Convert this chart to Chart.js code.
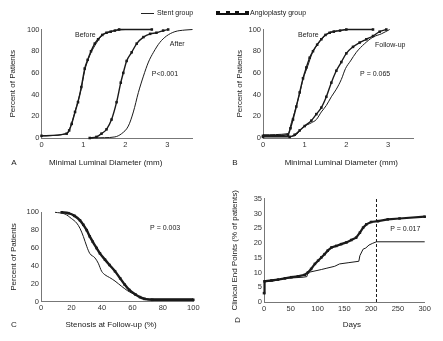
<!DOCTYPE html>
<html>
<head>
<meta charset="utf-8">
<script src="https://cdn.jsdelivr.net/npm/chart.js@4.4.1/dist/chart.umd.min.js"></script>
<style>
  html, body { margin: 0; padding: 0; background: #fff; }
  body { position: relative; width: 443px; height: 341px; overflow: hidden; font-family: "Liberation Sans", Arial, sans-serif; color: #222; }
  canvas { position: absolute; }
  #legend { position: absolute; left: 0; top: 0; width: 443px; height: 20px; will-change: transform; -webkit-font-smoothing: antialiased; }
  .legend-line { position: absolute; height: 1px; background: #222; }
  .legend-thick { position: absolute; height: 1.5px; background: #111; }
  .legend-box { position: absolute; width: 4px; height: 4px; background: #111; }
  .legend-text { position: absolute; font-size: 7px; line-height: 8px; white-space: nowrap; color: #1a1a1a; }
</style>
</head>
<body>
<div id="legend">
  <div class="legend-line" style="left:141px;top:13px;width:13px"></div>
  <div class="legend-text" style="left:157px;top:9px">Stent group</div>
  <div class="legend-thick" style="left:218px;top:13px;width:29px"></div>
  <div class="legend-box" style="left:216px;top:11px"></div>
  <div class="legend-box" style="left:225.5px;top:11px"></div>
  <div class="legend-box" style="left:235px;top:11px"></div>
  <div class="legend-box" style="left:244.5px;top:11px"></div>
  <div class="legend-text" style="left:250px;top:9px">Angioplasty group</div>
</div>

<canvas id="panelA" width="220" height="155" style="left:0;top:18px"></canvas>
<canvas id="panelB" width="221" height="155" style="left:222px;top:18px"></canvas>
<canvas id="panelC" width="220" height="146" style="left:0;top:195px"></canvas>
<canvas id="panelD" width="221" height="156" style="left:222px;top:185px"></canvas>

<script>
const ink = "#1a1a1a";
const fontFamily = "'Liberation Sans', Arial, sans-serif";

// tick values
const diamTicks = [0, 1, 2, 3];
const pctTicks = [0, 20, 40, 60, 80, 100];
const stenosisTicks = [0, 20, 40, 60, 80, 100];
const dayTicks = [0, 50, 100, 150, 200, 250, 300];
const endPointTicks = [0, 5, 10, 15, 20, 25, 30, 35];

// A: cumulative minimal luminal diameter, before and after the procedure
const stentBeforeA = [[0, 2], [0.6, 4], [0.72, 14], [0.84, 30], [0.95, 46], [1.03, 62], [1.15, 76], [1.27, 85], [1.43, 94], [1.55, 97], [1.75, 99], [2.0, 100], [2.5, 100]];
const angioBeforeA = [[0, 2], [0.6, 4], [0.66, 7], [0.72, 13], [0.8, 24], [0.87, 33], [0.95, 47], [1.03, 64], [1.1, 72], [1.18, 80], [1.27, 87], [1.35, 91], [1.45, 95], [1.55, 97], [1.65, 98], [1.75, 99], [1.85, 100], [2.63, 100]];
const stentAfterA = [[1.15, 0], [1.5, 0.3], [1.75, 1], [1.91, 4], [2.07, 11], [2.19, 24], [2.31, 42], [2.43, 57], [2.55, 70], [2.67, 79], [2.82, 88], [2.98, 94], [3.18, 98], [3.42, 99.5], [3.6, 100]];
const angioAfterA = [[1.15, 0], [1.31, 1], [1.43, 4], [1.55, 8], [1.67, 17], [1.79, 33], [1.89, 51], [1.95, 60], [2.03, 71], [2.15, 79], [2.27, 87], [2.43, 93], [2.59, 96], [2.74, 97], [2.9, 99], [3.02, 100]];

// B: before and at follow-up
const stentBeforeB = [[0, 3], [0.6, 4], [0.68, 14], [0.76, 24], [0.88, 41], [0.96, 54], [1.08, 67], [1.18, 78], [1.32, 87], [1.48, 94], [1.64, 98], [1.84, 99], [2.04, 100], [2.64, 100]];
const angioBeforeB = [[0, 2], [0.6, 3], [0.66, 9], [0.72, 17], [0.8, 29], [0.88, 42], [0.96, 55], [1.04, 65], [1.12, 74], [1.2, 80], [1.3, 86], [1.4, 91], [1.5, 95], [1.6, 97], [1.7, 98], [1.85, 99], [2.0, 100], [2.64, 100]];
const stentFollowB = [[0, 1.5], [0.64, 1.5], [0.76, 2], [0.96, 10], [1.16, 14], [1.28, 17], [1.4, 24], [1.52, 30], [1.64, 38], [1.76, 45], [1.88, 54], [1.98, 64], [2.1, 71], [2.24, 79], [2.44, 87], [2.64, 93], [2.84, 96], [3.04, 100]];
const angioFollowB = [[0, 1], [0.64, 1], [0.76, 3], [0.88, 7], [1.0, 11], [1.16, 16], [1.28, 22], [1.4, 28], [1.52, 38], [1.64, 51], [1.76, 62], [1.88, 70], [2.0, 78], [2.16, 84], [2.32, 88], [2.48, 91], [2.64, 94], [2.8, 98], [2.96, 100]];

// C: stenosis at follow-up
const stentC = [[9.2, 100], [15.8, 98], [20, 93], [23.4, 88], [25.6, 82], [27.8, 73], [30, 62], [32, 54], [35.4, 49], [37.6, 43], [39.8, 34], [42, 30], [45, 27], [48.6, 23], [53, 17], [57, 12], [62, 7.5], [66, 4.5], [73, 3], [100, 3]];
const angioC = [[13.6, 100], [18, 99], [22, 96], [25.6, 91], [27.8, 86], [30, 80], [32, 73], [34, 67], [36.5, 60], [38.7, 54], [42, 47], [45, 41], [48.6, 34], [52, 26], [55, 19], [58, 13], [62, 8], [65, 5], [68, 3], [73, 2], [100, 2]];

// D: clinical end points over time
const stentD = [[0, 5], [1, 7], [14, 7], [39, 8], [73, 8.4], [80, 8.6], [82, 10], [107, 11], [116, 11.4], [132, 12.1], [141, 12.9], [157, 13.3], [177, 13.8], [179, 15.7], [185, 17.9], [190, 18.3], [196, 19.3], [203, 19.9], [210, 20.4], [300, 20.4]];
const angioD = [[0, 3], [1, 7], [14, 7.3], [26, 7.6], [39, 8], [51, 8.4], [63, 8.7], [76, 9.2], [82, 10], [88, 11.2], [95, 12.9], [101, 14], [107, 15.1], [113, 16.2], [119, 17.4], [126, 18.5], [135, 19], [144, 19.6], [154, 20.2], [163, 21], [172, 21.8], [179, 23.5], [185, 25.2], [191, 26.3], [200, 27.1], [213, 27.4], [231, 28], [253, 28.3], [300, 28.9]];
const followUpDay = [[210, 0], [210, 35]];

const toXY = (pairs) => pairs.map(([x, y]) => ({ x, y }));

// free text on each panel: letter, x axis caption, curve notes
const panelText = {
  id: "panelText",
  afterDraw(chart, args, opts) {
    const { ctx, chartArea, scales } = chart;
    ctx.save();
    ctx.fillStyle = ink;
    ctx.textBaseline = "middle";

    ctx.font = `7px ${fontFamily}`;
    ctx.textAlign = "left";
    (opts.notes || []).forEach((n) => {
      ctx.fillText(n.text, scales.x.getPixelForValue(n.x), scales.y.getPixelForValue(n.y));
    });

    ctx.font = `8px ${fontFamily}`;
    ctx.textAlign = "center";
    ctx.fillText(opts.caption, scales.x.getPixelForValue(opts.captionAt), chartArea.bottom + opts.gap);

    const lx = opts.letterX;
    const ly = chartArea.bottom + opts.letterGap;
    if (opts.letterRotated) {
      ctx.translate(lx, ly);
      ctx.rotate(-Math.PI / 2);
      ctx.fillText(opts.letter, 0, 0);
    } else {
      ctx.fillText(opts.letter, lx, ly);
    }
    ctx.restore();
  }
};

function stentSet(pairs, smooth) {
  return {
    data: toXY(pairs),
    borderColor: ink,
    borderWidth: 1,
    pointRadius: 0,
    cubicInterpolationMode: smooth ? "monotone" : "default",
    clip: false
  };
}

function angioSet(pairs, smooth, width) {
  return {
    data: toXY(pairs),
    borderColor: ink,
    borderWidth: width || 1.4,
    pointStyle: "rect",
    pointRadius: 1.8,
    pointBackgroundColor: ink,
    pointBorderWidth: 0,
    cubicInterpolationMode: smooth ? "monotone" : "default",
    clip: false
  };
}

function axis(ticks, min, max, size, extra) {
  return {
    type: "linear",
    min,
    max,
    grid: { display: false, drawTicks: false },
    border: { display: true, color: "#777", width: 1 },
    ticks: { color: "#333", font: { size: 7.5, family: fontFamily }, padding: 2, maxRotation: 0 },
    afterBuildTicks: (scale) => { scale.ticks = ticks.map((v) => ({ value: v })); },
    afterFit: (scale) => {
      if (scale.isHorizontal()) { scale.height = size; } else { scale.width = size; }
    },
    ...extra
  };
}

function panel(id, p) {
  return new Chart(document.getElementById(id), {
    type: "line",
    data: { datasets: p.datasets },
    options: {
      responsive: false,
      animation: false,
      events: [],
      layout: { padding: { top: p.padTop, right: p.padRight, bottom: 0, left: 0 } },
      plugins: {
        legend: { display: false },
        tooltip: { enabled: false },
        panelText: p.text
      },
      scales: {
        x: axis(p.xTicks, p.xMin, p.xMax, p.xSize),
        y: axis(p.yTicks, p.yMin, p.yMax, p.ySize, {
          title: {
            display: true,
            text: p.yTitle,
            color: ink,
            font: { size: 8, family: fontFamily },
            padding: { top: p.yTitlePad, bottom: 0 }
          }
        })
      }
    },
    plugins: [panelText]
  });
}

panel("panelA", {
  datasets: [
    stentSet(stentBeforeA, true),
    angioSet(angioBeforeA, true),
    stentSet(stentAfterA, true),
    angioSet(angioAfterA, true)
  ],
  xTicks: diamTicks, xMin: 0, xMax: 3.6, xSize: 35,
  yTicks: pctTicks, yMin: 0, yMax: 100, ySize: 41.5,
  padTop: 11.5, padRight: 27.5,
  yTitle: "Percent of Patients", yTitlePad: 8.2,
  text: {
    caption: "Minimal Luminal Diameter (mm)", captionAt: 1.53, gap: 25,
    letter: "A", letterX: 14, letterGap: 25,
    notes: [
      { text: "Before", x: 0.8, y: 95 },
      { text: "After", x: 3.06, y: 86.6 },
      { text: "P<0.001", x: 2.63, y: 59 }
    ]
  }
});

panel("panelB", {
  datasets: [
    stentSet(stentBeforeB, true),
    angioSet(angioBeforeB, true),
    stentSet(stentFollowB, true),
    angioSet(angioFollowB, true)
  ],
  xTicks: diamTicks, xMin: 0, xMax: 3.6, xSize: 35,
  yTicks: pctTicks, yMin: 0, yMax: 100, ySize: 41,
  padTop: 11.5, padRight: 30,
  yTitle: "Percent of Patients", yTitlePad: 13.2,
  text: {
    caption: "Minimal Luminal Diameter (mm)", captionAt: 1.88, gap: 25,
    letter: "B", letterX: 13, letterGap: 25,
    notes: [
      { text: "Before", x: 0.84, y: 95 },
      { text: "Follow-up", x: 2.69, y: 85.7 },
      { text: "P = 0.065", x: 2.33, y: 59 }
    ]
  }
});

panel("panelC", {
  datasets: [
    stentSet(stentC, true),
    angioSet(angioC, true, 2.4)
  ],
  xTicks: stenosisTicks, xMin: 0, xMax: 100, xSize: 39.4,
  yTicks: pctTicks, yMin: 0, yMax: 100, ySize: 41,
  padTop: 17.3, padRight: 26.7,
  yTitle: "Percent of Patients", yTitlePad: 9.2,
  text: {
    caption: "Stenosis at Follow-up (%)", captionAt: 46, gap: 23.5,
    letter: "C", letterX: 14, letterGap: 23.5,
    notes: [
      { text: "P = 0.003", x: 71.6, y: 82.5 }
    ]
  }
});

panel("panelD", {
  datasets: [
    stentSet(stentD, false),
    angioSet(angioD, false, 2.2),
    {
      data: toXY(followUpDay),
      borderColor: ink,
      borderWidth: 1,
      borderDash: [3, 2],
      pointRadius: 0,
      clip: false
    }
  ],
  xTicks: dayTicks, xMin: 0, xMax: 300, xSize: 39,
  yTicks: endPointTicks, yMin: 0, yMax: 35, ySize: 42,
  padTop: 13.7, padRight: 18.3,
  yTitle: "Clinical End Points (% of patients)", yTitlePad: 8.2,
  text: {
    caption: "Days", captionAt: 164, gap: 23,
    letter: "D", letterX: 16, letterGap: 18, letterRotated: true,
    notes: [
      { text: "P = 0.017", x: 235.5, y: 24.7 }
    ]
  }
});
</script>
</body>
</html>
